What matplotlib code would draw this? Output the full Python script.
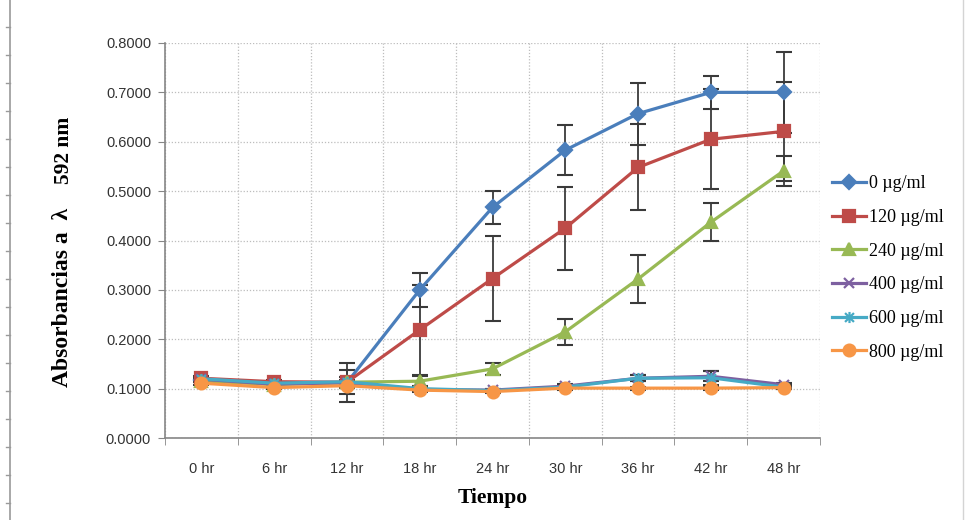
import matplotlib
matplotlib.use("Agg")
import matplotlib.pyplot as plt
from matplotlib.lines import Line2D
from matplotlib.path import Path
from matplotlib.ticker import MultipleLocator, FixedLocator

# absorbance readings per concentration, one value per sampling time
times = ["0 hr", "6 hr", "12 hr", "18 hr", "24 hr", "30 hr", "36 hr", "42 hr", "48 hr"]
labels = ["0 \u00b5g/ml", "120 \u00b5g/ml", "240 \u00b5g/ml",
          "400 \u00b5g/ml", "600 \u00b5g/ml", "800 \u00b5g/ml"]

abs_0 = [0.118, 0.110, 0.112, 0.300, 0.467, 0.583, 0.657, 0.700, 0.700]
abs_120 = [0.121, 0.114, 0.113, 0.219, 0.323, 0.425, 0.548, 0.605, 0.621]
abs_240 = [0.116, 0.108, 0.113, 0.115, 0.140, 0.215, 0.322, 0.437, 0.541]
abs_400 = [0.119, 0.109, 0.112, 0.098, 0.097, 0.105, 0.121, 0.125, 0.108]
abs_600 = [0.120, 0.111, 0.114, 0.100, 0.096, 0.103, 0.121, 0.122, 0.103]
abs_800 = [0.111, 0.102, 0.106, 0.097, 0.094, 0.101, 0.101, 0.101, 0.102]

sd_0 = [0.005, 0.004, 0.040, 0.035, 0.034, 0.051, 0.063, 0.033, 0.082]
sd_120 = [0.004, 0.004, 0.024, 0.091, 0.086, 0.084, 0.087, 0.101, 0.100]
sd_240 = [0.003, 0.003, 0.010, 0.010, 0.012, 0.026, 0.048, 0.039, 0.030]
sd_400 = [0.003, 0.003, 0.004, 0.003, 0.003, 0.004, 0.006, 0.010, 0.004]
sd_600 = [0.003, 0.003, 0.004, 0.003, 0.003, 0.004, 0.006, 0.014, 0.004]
sd_800 = [0.003, 0.003, 0.004, 0.003, 0.003, 0.003, 0.003, 0.003, 0.003]

series = [abs_0, abs_120, abs_240, abs_400, abs_600, abs_800]
errors = [sd_0, sd_120, sd_240, sd_400, sd_600, sd_800]

# excel-ish star: an x with a vertical stroke through it
star = Path([(-1, -1), (1, 1), (-1, 1), (1, -1), (0, -1.25), (0, 1.25)],
            [Path.MOVETO, Path.LINETO, Path.MOVETO, Path.LINETO, Path.MOVETO, Path.LINETO])

colors = ["#4A7EBB", "#BE4B48", "#98B954", "#7D60A0", "#46AAC5", "#F79646"]
markers = ["D", "s", "^", "x", star, "o"]
msizes = [7, 8, 8.5, 7, 8, 8.5]

serif = "Liberation Serif"
sans = "Liberation Sans"
W, H = 967, 520

fig = plt.figure(figsize=(W / 100, H / 100), dpi=100)
ax = fig.add_axes([165 / W, 1 - 438 / H, 655 / W, 395 / H])

x = list(range(len(times)))
for i, (y, e) in enumerate(zip(series, errors)):
    ax.plot(x, y, color=colors[i], lw=2.3, marker=markers[i], ms=msizes[i],
            mec=colors[i], mfc=colors[i], mew=1.6, label=labels[i], zorder=4 + i)
    _, caps, bars = ax.errorbar(x, y, yerr=e, fmt="none", ecolor="#3a3a3a",
                                elinewidth=1.3, capsize=6, capthick=1.5, zorder=3)
    for c in caps:
        c.set_color("black")

ax.set_xlim(-0.5, len(times) - 0.5)
ax.set_ylim(0, 0.8)
ax.yaxis.set_major_locator(MultipleLocator(0.1))
ax.yaxis.set_major_formatter(plt.FormatStrFormatter("%.4f"))
ax.set_xticks(x)
ax.set_xticklabels(times)
ax.xaxis.set_minor_locator(FixedLocator([k - 0.5 for k in range(len(times) + 1)]))

ax.tick_params(axis="x", which="major", length=0, pad=17, labelsize=10.5, labelcolor="#333333")
ax.tick_params(axis="x", which="minor", length=5, color="#868686", direction="out")
ax.tick_params(axis="y", length=5, color="#868686", direction="out", pad=5,
               labelsize=10.5, labelcolor="#333333")
for lab in ax.get_xticklabels() + ax.get_yticklabels():
    lab.set_fontfamily(sans)

grid_kw = dict(color="#BDBDBD", lw=0.9, ls=(0, (1, 1.5)))
ax.grid(axis="y", which="major", **grid_kw)
ax.grid(axis="x", which="minor", **grid_kw)
ax.set_axisbelow(True)

for side in ("top", "right"):
    ax.spines[side].set_visible(False)
for side in ("left", "bottom"):
    ax.spines[side].set_color("#868686")
    ax.spines[side].set_linewidth(1.2)

# axis titles in bold serif
fig.text(493 / W, 1 - 498 / H, "Tiempo", family=serif, weight="bold", size=15.5,
         ha="center", va="center")
fig.text(63 / W, 1 - 387 / H, "Absorbancias a  \u03bb", family=serif, weight="bold",
         size=17, rotation=90, ha="center", va="bottom")
fig.text(64 / W, 1 - 117 / H, "592 nm", family=serif, weight="bold",
         size=15.5, rotation=90, ha="center", va="top")

leg = ax.legend(loc="center left", bbox_to_anchor=(832 / W, 1 - 268 / H),
                bbox_transform=fig.transFigure, frameon=False,
                prop={"family": serif, "size": 13}, handlelength=1.9,
                handletextpad=0.15, labelspacing=0.92, borderaxespad=0, borderpad=0)

# page ruler on the left edge and the faint frame on the right
fig.add_artist(Line2D([10 / W, 10 / W], [0, 1], color="#9a9a9a", lw=1.2,
                      transform=fig.transFigure))
for yp in range(27, H, 28):
    fy = 1 - yp / H
    fig.add_artist(Line2D([6 / W, 10 / W], [fy, fy], color="#9a9a9a", lw=1,
                          transform=fig.transFigure))
fig.add_artist(Line2D([963 / W, 963 / W], [0, 1], color="#d4d4d4", lw=1,
                      transform=fig.transFigure))

fig.savefig("out.png", dpi=100)
